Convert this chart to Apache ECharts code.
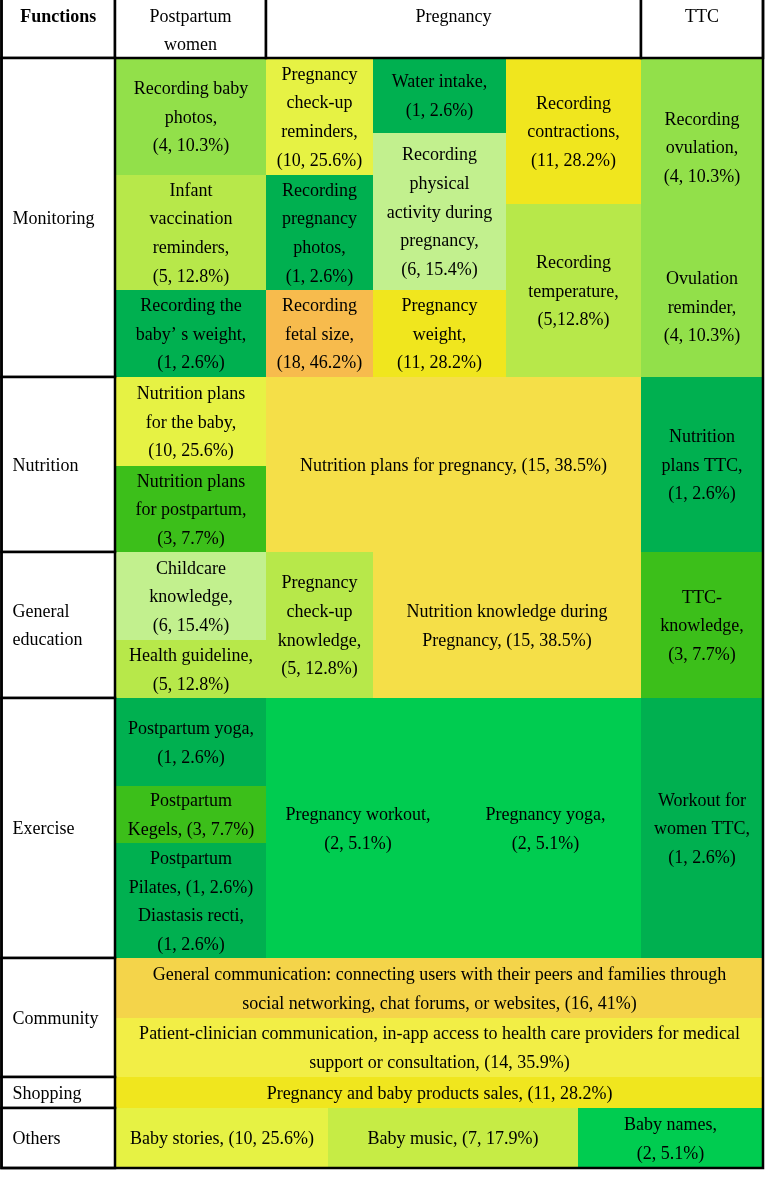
<!DOCTYPE html>
<html>
<head>
<meta charset="utf-8">
<script src="https://cdn.jsdelivr.net/npm/echarts@6/dist/echarts.min.js"></script>
<style>
  html, body { margin: 0; padding: 0; background: #fff; }
  #chart { width: 765px; height: 1199px; }
</style>
</head>
<body>
<div id="chart"></div>
<script>
// 表头 / 行分组
const headers = ['Functions', 'Postpartum\nwomen', 'Pregnancy', 'TTC']
const groups = ['Monitoring', 'Nutrition', 'General\neducation', 'Exercise', 'Community', 'Shopping', 'Others']

// 每个功能：名称模板（{c} 数量, {p} 百分比）
const functionNames = [
    'Recording baby\nphotos,\n({c}, {p}%)',
    'Infant\nvaccination\nreminders,\n({c}, {p}%)',
    'Recording the\nbaby’ s weight,\n({c}, {p}%)',
    'Pregnancy\ncheck-up\nreminders,\n({c}, {p}%)',
    'Recording\npregnancy\nphotos,\n({c}, {p}%)',
    'Recording\nfetal size,\n({c}, {p}%)',
    'Water intake,\n({c}, {p}%)',
    'Recording\nphysical\nactivity during\npregnancy,\n({c}, {p}%)',
    'Pregnancy\nweight,\n({c}, {p}%)',
    'Recording\ncontractions,\n({c}, {p}%)',
    'Recording\ntemperature,\n({c},{p}%)',
    'Recording\novulation,\n({c}, {p}%)',
    'Ovulation\nreminder,\n({c}, {p}%)',
    'Nutrition plans\nfor the baby,\n({c}, {p}%)',
    'Nutrition plans\nfor postpartum,\n({c}, {p}%)',
    'Nutrition plans for pregnancy, ({c}, {p}%)',
    'Nutrition\nplans TTC,\n({c}, {p}%)',
    'Childcare\nknowledge,\n({c}, {p}%)',
    'Health guideline,\n({c}, {p}%)',
    'Pregnancy\ncheck-up\nknowledge,\n({c}, {p}%)',
    'Nutrition knowledge during\nPregnancy, ({c}, {p}%)',
    'TTC-\nknowledge,\n({c}, {p}%)',
    'Postpartum yoga,\n({c}, {p}%)',
    'Postpartum\nKegels, ({c}, {p}%)',
    'Postpartum\nPilates, ({c}, {p}%)',
    'Diastasis recti,\n({c}, {p}%)',
    'Pregnancy workout,\n({c}, {p}%)',
    'Pregnancy yoga,\n({c}, {p}%)',
    'Workout for\nwomen TTC,\n({c}, {p}%)',
    'General communication: connecting users with their peers and families through\nsocial networking, chat forums, or websites, ({c}, {p}%)',
    'Patient-clinician communication, in-app access to health care providers for medical\nsupport or consultation, ({c}, {p}%)',
    'Pregnancy and baby products sales, ({c}, {p}%)',
    'Baby stories, ({c}, {p}%)',
    'Baby music, ({c}, {p}%)',
    'Baby names,\n({c}, {p}%)'
]
const appCounts = [4, 5, 1, 10, 1, 18, 1, 6, 11, 11, 5, 4, 4, 10, 3, 15, 1, 6, 5, 5, 15, 3, 1, 3, 1, 1, 2, 2, 1, 16, 14, 11, 10, 7, 2]
const appPercents = ['10.3', '12.8', '2.6', '25.6', '2.6', '46.2', '2.6', '15.4', '28.2', '28.2', '12.8', '10.3', '10.3',
    '25.6', '7.7', '38.5', '2.6', '15.4', '12.8', '12.8', '38.5', '7.7', '2.6', '7.7', '2.6', '2.6', '5.1', '5.1', '2.6',
    '41', '35.9', '28.2', '25.6', '17.9', '5.1']

// 表格布局（表格坐标：x0, y0, x1, y1）
const cellBoxes = [
    [116, 58, 266, 175], [116, 175, 266, 290], [116, 290, 266, 377],
    [266, 58, 373, 175], [266, 175, 373, 290], [266, 290, 373, 377],
    [373, 58, 506, 133], [373, 133, 506, 290], [373, 290, 506, 377],
    [506, 58, 641, 204], [506, 204, 641, 377],
    [641, 58, 763, 236], [641, 236, 763, 377],
    [116, 377, 266, 466], [116, 466, 266, 552], [266, 377, 641, 552], [641, 377, 763, 552],
    [116, 552, 266, 640], [116, 640, 266, 698], [266, 552, 373, 698], [373, 552, 641, 698], [641, 552, 763, 698],
    [116, 698, 266, 786], [116, 786, 266, 843], [116, 843, 266, 901], [116, 901, 266, 958],
    [266, 698, 450, 958], [450, 698, 641, 958], [641, 698, 763, 958],
    [116, 958, 763, 1018], [116, 1018, 763, 1077],
    [116, 1077, 763, 1108],
    [116, 1108, 328, 1168], [328, 1108, 578, 1168], [578, 1108, 763, 1168]
]
const headerBoxes = [[1.5, -3, 115, 58], [115, -3, 266, 58], [266, -3, 641, 58], [641, -3, 763, 58]]
const groupBoxes = [[1.5, 58, 115, 377], [1.5, 377, 115, 552], [1.5, 552, 115, 698], [1.5, 698, 115, 958],
    [1.5, 958, 115, 1077], [1.5, 1077, 115, 1108], [1.5, 1108, 115, 1168]]

// 数量 -> 颜色
const countColors = [
    { value: 1, color: '#00b050' },
    { value: 2, color: '#00cc50' },
    { value: 3, color: '#3cbf1a' },
    { value: 4, color: '#92e04a' },
    { value: 5, color: '#b7e84a' },
    { value: 6, color: '#c2f08e' },
    { value: 7, color: '#c6ec45' },
    { value: 10, color: '#e6f244' },
    { value: 11, color: '#f0e61e' },
    { value: 14, color: '#f2ee46' },
    { value: 15, color: '#f5df48' },
    { value: 16, color: '#f4d44a' },
    { value: 18, color: '#f7bb4d' }
]

const FONT = '"Liberation Serif", "Times New Roman", serif'
const LINE = 2.5
const TEXT_SHIFT = 1.5

const formatLabel = (i) => functionNames[i].replace('{c}', appCounts[i]).replace('{p}', appPercents[i])

const cellData = cellBoxes.map((b, i) => [b[0], b[1], b[2], b[3], appCounts[i]])
const frameData = headerBoxes.map((b, i) => b.concat(['header', headers[i]]))
    .concat(groupBoxes.map((b, i) => b.concat(['group', groups[i]])))
    .concat([[1.5, -3, 763, 1168, 'outline', '']])

const boxRect = (api) => {
    const p0 = api.coord([api.value(0), api.value(1)])
    const p1 = api.coord([api.value(2), api.value(3)])
    return { x: p0[0], y: p0[1], width: p1[0] - p0[0], height: p1[1] - p0[1] }
}

const renderCell = (params, api) => {
    const r = boxRect(api)
    return {
        type: 'group',
        children: [
            { type: 'rect', shape: r, style: { fill: api.visual('color') } },
            {
                type: 'text',
                x: r.x + r.width / 2,
                y: r.y + r.height / 2 + TEXT_SHIFT,
                style: {
                    text: formatLabel(params.dataIndex),
                    align: 'center',
                    verticalAlign: 'middle',
                    fontFamily: FONT,
                    fontSize: 18,
                    lineHeight: 28.7,
                    fill: '#000'
                }
            }
        ]
    }
}

const renderFrame = (params, api) => {
    const r = boxRect(api)
    const kind = frameData[params.dataIndex][4]
    const text = frameData[params.dataIndex][5]
    if (kind === 'outline') {
        return { type: 'rect', shape: r, style: { fill: 'none', stroke: '#000', lineWidth: LINE } }
    }
    const isHeader = kind === 'header'
    return {
        type: 'group',
        children: [
            { type: 'rect', shape: r, style: { fill: '#fff', stroke: '#000', lineWidth: LINE } },
            {
                type: 'text',
                x: isHeader ? r.x + r.width / 2 : r.x + 11,
                y: isHeader ? 3 : r.y + r.height / 2 + TEXT_SHIFT,
                style: {
                    text: text,
                    align: isHeader ? 'center' : 'left',
                    verticalAlign: isHeader ? 'top' : 'middle',
                    fontFamily: FONT,
                    fontSize: 18,
                    fontWeight: params.dataIndex === 0 ? 'bold' : 'normal',
                    lineHeight: 28,
                    fill: '#000'
                }
            }
        ]
    }
}

const chart = echarts.init(document.getElementById('chart'))
chart.setOption({
    backgroundColor: '#fff',
    animation: false,
    grid: { left: 0, right: 0, top: 0, bottom: 0 },
    xAxis: { type: 'value', min: 0, max: 765, show: false },
    yAxis: { type: 'value', min: 0, max: 1199, inverse: true, show: false },
    visualMap: {
        type: 'piecewise',
        show: false,
        seriesIndex: 0,
        dimension: 4,
        pieces: countColors
    },
    series: [
        {
            type: 'custom',
            renderItem: renderCell,
            encode: { x: [0, 2], y: [1, 3] },
            clip: false,
            data: cellData
        },
        {
            type: 'custom',
            renderItem: renderFrame,
            encode: { x: [0, 2], y: [1, 3] },
            clip: false,
            z: 3,
            data: frameData
        }
    ]
})
</script>
</body>
</html>
